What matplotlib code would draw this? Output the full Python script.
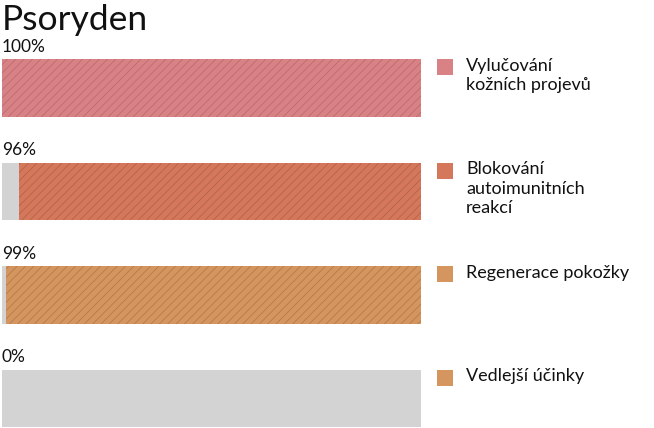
import matplotlib
matplotlib.use("Agg")
import matplotlib.pyplot as plt
import matplotlib.transforms as mtransforms
from matplotlib.patches import Rectangle

plt.rcParams['font.family'] = ['Lato', 'DejaVu Sans']
plt.rcParams['hatch.linewidth'] = 0.5

title = "Psoryden"
labels = ["Vylučování\nkožních projevů",
          "Blokování\nautoimunitních\nreakcí",
          "Regenerace pokožky",
          "Vedlejší účinky"]
values = [100, 96, 99, 0]
colors = ["#d98286", "#d4775a", "#d4955e", "#d4955e"]
hatch_colors = ["#b5696d", "#ad6048", "#ad774a", "#ad774a"]
bg_color = "#d3d3d3"

W, H = 654, 428
fig = plt.figure(figsize=(W / 100, H / 100), dpi=100)
ax = fig.add_axes([2 / W, 0, 419 / W, 1])
ax.set_xlim(0, 100)
ax.set_ylim(3.285, -0.850)
ax.axis('off')

ypos = list(range(len(values)))
bh = 0.56
ax.barh(ypos, [100] * len(values), height=bh, color=bg_color, linewidth=0)
for y, v, c, hc in zip(ypos, values, colors, hatch_colors):
    if v > 0:
        ax.barh(y, v, left=100 - v, height=bh, facecolor=c, edgecolor=hc,
                linewidth=0, hatch='////')
    ax.text(0, y - bh / 2 - 0.07, f"{v}%", fontsize=12.5, ha='left',
            va='baseline', color='#111111')

blend = mtransforms.blended_transform_factory(fig.transFigure, ax.transData)
for y, lab, c in zip(ypos, labels, colors):
    top = y - bh / 2
    ax.add_patch(Rectangle((437 / W, top), 16 / W, 16 / 103.5, transform=blend,
                           facecolor=c, linewidth=0, clip_on=False))
    ax.text(466 / W, top - 0.01, lab, transform=blend, fontsize=13,
            ha='left', va='top', linespacing=1.27, color='#111111')

fig.text(2 / W, 1 - 30 / H, title, fontsize=25.5, ha='left', va='baseline',
         color='#111111')

fig.savefig("out.png", dpi=100)
